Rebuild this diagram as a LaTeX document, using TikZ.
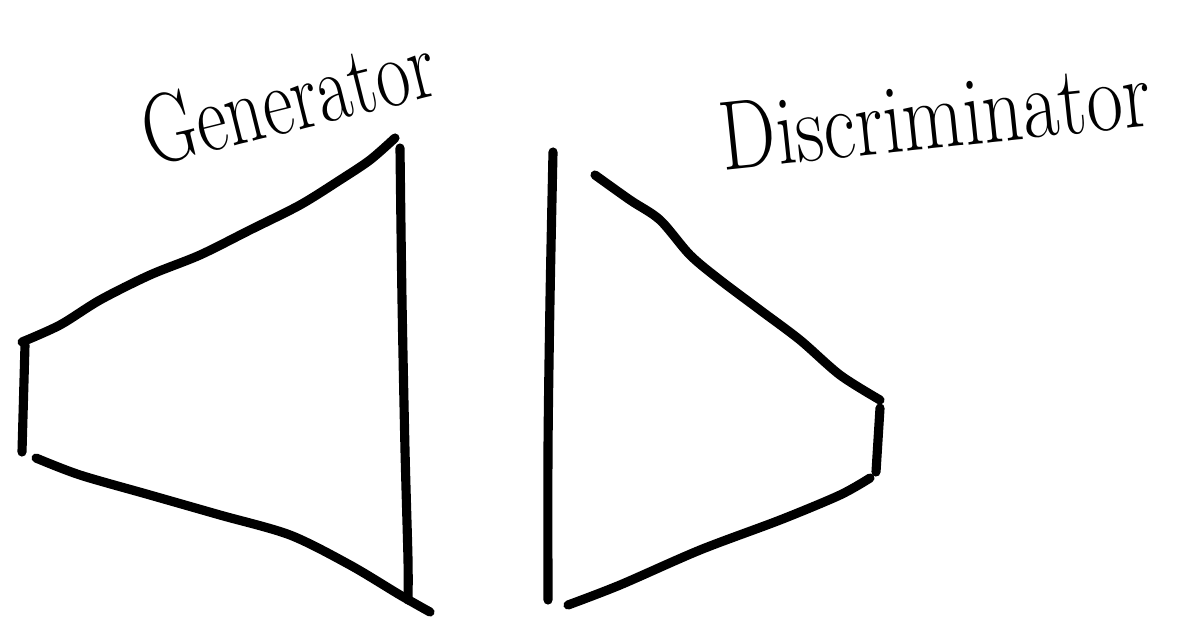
\documentclass[tikz,border=0pt]{standalone}
\usepackage{tikz}

\begin{document}
\begin{tikzpicture}[
       x=0.01cm, y=-0.01cm,
       stroke/.style={
           line width=2.6pt,
           line cap=round,
           line join=round
       },
       hand/.style={
           font=\fontsize{28}{30}\selectfont,
           inner sep=0pt
       }
   ]

   \useasboundingbox (0,0) rectangle (1179,618);

   % Generator
   \draw[stroke] plot[smooth] coordinates {(22,342) (60,325) (100,300) (150,275)
       (200,255) (250,230) (300,205) (340,180) (370,160) (395,138)};
   \draw[stroke] (25,345) -- (22,452);
   \draw[stroke] plot[smooth] coordinates {(400,148) (402,300) (405,450) (408,560) (408,600)};
   \draw[stroke] plot[smooth] coordinates {(36,458) (80,475) (150,495) (220,515)
       (290,535) (350,565) (400,595) (430,612)};

   % Discriminator
   \draw[stroke] plot[smooth] coordinates {(553,152) (550,300) (548,450) (548,600)};
   \draw[stroke] plot[smooth] coordinates {(595,175) (630,200) (660,220) (690,255)
       (720,280) (760,310) (800,340) (840,375) (880,400)};
   \draw[stroke] plot[smooth] coordinates {(880,408) (878,440) (876,472)};
   \draw[stroke] plot[smooth] coordinates {(568,605) (620,585) (700,550) (780,520)
       (840,495) (870,478)};

   % Labels
   \node[hand, rotate=14] (gen) at (288,98) {\scalebox{0.75}[1]{Generator}};
   \node[hand, rotate=6] (disc) at (935,115) {\scalebox{0.8}[1]{Discriminator}};

\end{tikzpicture}
\end{document}
